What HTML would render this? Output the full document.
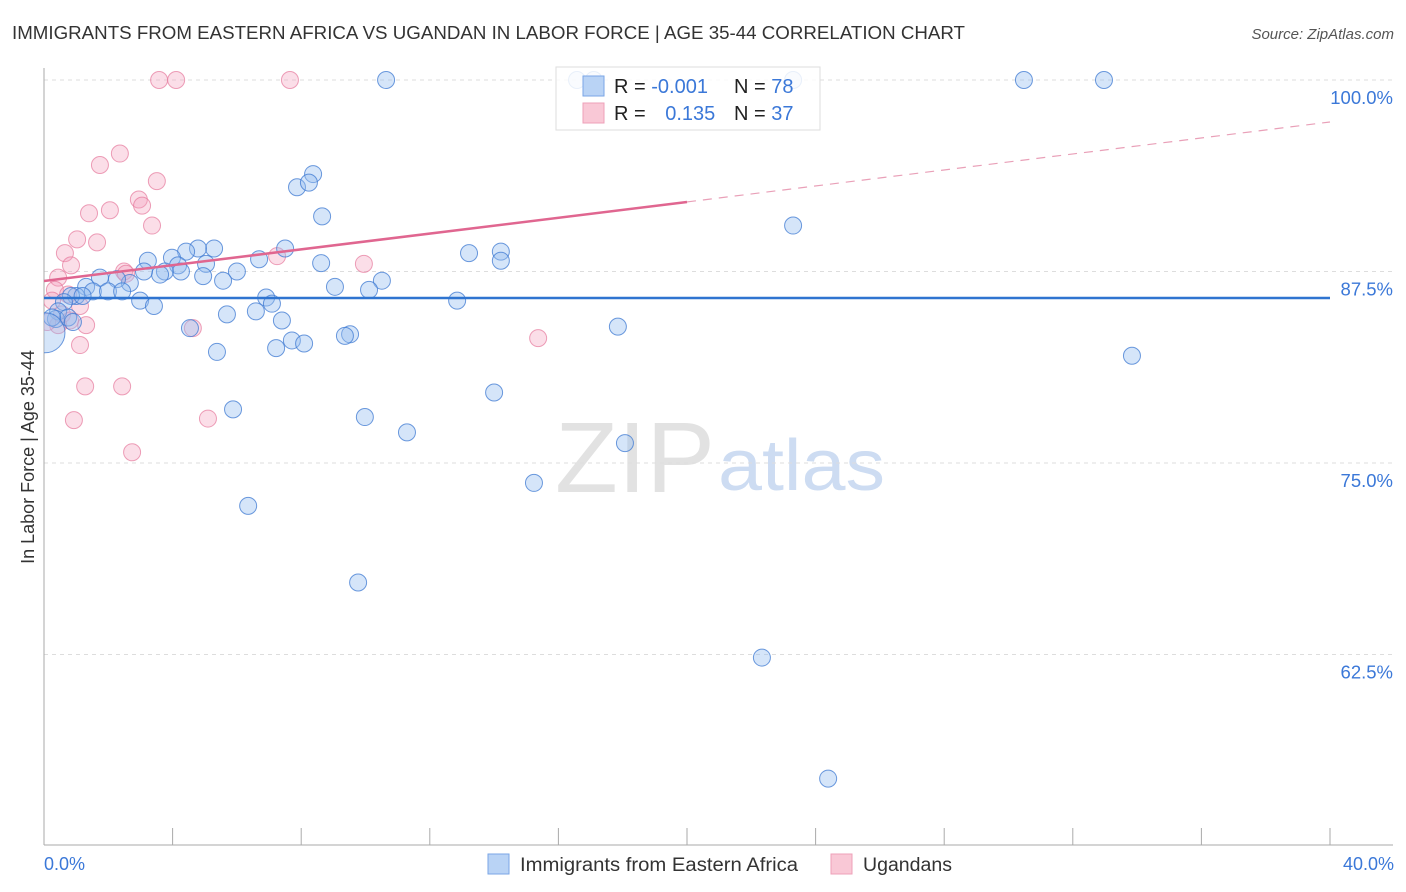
<!DOCTYPE html>
<html><head><meta charset="utf-8">
<style>
body{margin:0;background:#fff;font-family:"Liberation Sans",sans-serif;}
#wrap{position:relative;width:1406px;height:892px;overflow:hidden;}
svg text{font-family:"Liberation Sans",sans-serif;}
</style></head>
<body>
<div id="wrap">
<svg id="chart" width="1406" height="892" xmlns="http://www.w3.org/2000/svg">
<text x="12" y="39" font-size="18" fill="#333" textLength="953" lengthAdjust="spacingAndGlyphs">IMMIGRANTS FROM EASTERN AFRICA VS UGANDAN IN LABOR FORCE | AGE 35-44 CORRELATION CHART</text>
<text x="1394" y="39" font-size="15" fill="#555" font-style="italic" text-anchor="end">Source: ZipAtlas.com</text>
<text x="555" y="492" font-size="100" fill="#e2e2e2" textLength="160" lengthAdjust="spacingAndGlyphs" font-family="Liberation Serif">ZIP</text>
<text x="718" y="490" font-size="72" fill="#cddcf2" textLength="167" lengthAdjust="spacingAndGlyphs">atlas</text>
<g id="grid"></g>
<g id="axes"></g>
<svg x="44" y="0" width="1362" height="892" viewBox="44 0 1362 892" overflow="hidden"><g id="pts"></g></svg>
<g id="lines"></g>
<text transform="translate(34,457) rotate(-90)" font-size="18" fill="#333" text-anchor="middle">In Labor Force | Age 35-44</text>
<text x="44" y="870" font-size="18" fill="#3b78d8">0.0%</text>
<text x="1394" y="870" font-size="18" fill="#3b78d8" text-anchor="end">40.0%</text>
<g>
<rect x="556" y="67" width="264" height="63" fill="rgba(255,255,255,0.85)" stroke="#ddd"/>
<rect x="583" y="76" width="21" height="20" fill="#b9d3f5" stroke="#7aa6e6"/>
<rect x="583" y="103" width="21" height="20" fill="#f9c8d6" stroke="#eea0b8"/>
<text x="614" y="93" font-size="20" fill="#222">R = <tspan fill="#3b78d8">-0.001</tspan></text>
<text x="734" y="93" font-size="20" fill="#222">N = <tspan fill="#3b78d8">78</tspan></text>
<text x="614" y="120" font-size="20" fill="#222">R = <tspan fill="#3b78d8" dx="14">0.135</tspan></text>
<text x="734" y="120" font-size="20" fill="#222">N = <tspan fill="#3b78d8">37</tspan></text>
</g>
<g>
<rect x="488" y="854" width="21" height="20" fill="#b9d3f5" stroke="#7aa6e6"/>
<text x="520" y="871" font-size="19" fill="#333" textLength="278" lengthAdjust="spacingAndGlyphs">Immigrants from Eastern Africa</text>
<rect x="831" y="854" width="21" height="20" fill="#f9c8d6" stroke="#eea0b8"/>
<text x="863" y="871" font-size="19" fill="#333" textLength="89" lengthAdjust="spacingAndGlyphs">Ugandans</text>
</g>
</svg>
</div>
<script>
const yTicks=[100,87.5,75,62.5];
const yTickLabels=["100.0%","87.5%","75.0%","62.5%"];
const xTicks=[0,4,8,12,16,20,24,28,32,36,40];
const blueX=[10.64,16.58,17.1,30.48,32.97,23.3,8.37,7.87,8.24,8.65,23.3,13.22,14.21,14.21,7.5,5.29,4.79,4.42,3.98,3.23,4.17,5.04,6.0,6.69,8.62,10.51,10.11,9.05,4.95,5.57,4.26,3.76,3.61,3.11,2.67,2.27,1.74,1.31,1.52,1.99,2.43,2.99,3.42,1.0,0.84,0.62,0.44,0.37,0.75,0.25,6.91,7.09,12.85,5.69,6.59,7.4,4.54,9.52,9.36,7.71,8.09,7.22,5.38,17.85,33.84,14.0,5.88,9.98,11.29,18.07,15.24,6.35,9.77,22.33,24.39,1.2,0.9,0.03];
const blueY=[100,100,100,100,100,100,93.86,93.0,93.3,91.1,90.5,88.7,88.8,88.2,89.0,89.0,89.0,88.8,88.4,88.2,87.9,88.0,87.5,88.3,88.05,86.9,86.3,86.5,87.2,86.9,87.5,87.5,87.3,87.5,86.75,87.0,87.1,86.5,86.2,86.2,86.2,85.6,85.25,85.9,85.9,85.5,84.9,84.4,84.5,84.5,85.8,85.4,85.6,84.7,84.9,84.3,83.8,83.4,83.3,83.0,82.8,82.5,82.25,83.9,82.0,79.6,78.5,78.0,77.0,76.3,73.7,72.2,67.2,62.3,54.4,85.9,84.2,83.5];
const pinkX=[3.58,4.11,7.65,2.36,1.74,3.51,2.95,3.05,2.05,1.4,3.36,1.65,1.03,0.65,0.84,0.44,2.49,2.55,7.25,9.95,0.34,0.25,0.75,1.12,0.56,0.81,1.31,0.44,1.12,4.63,15.37,1.28,2.43,0.93,5.1,2.74,0.1];
const pinkY=[100,100,100,95.2,94.45,93.4,92.2,91.8,91.5,91.3,90.5,89.4,89.6,88.7,87.9,87.1,87.5,87.35,88.5,88.0,86.3,85.6,86.0,85.25,84.7,84.3,84.0,84.0,82.7,83.8,83.15,80.0,80.0,77.8,77.9,75.7,84.2];
const blueTrend=[85.77,85.77];
const pinkTrend=[86.88,92.04,97.26];
const trendX=[0,20,40];
const NS="http://www.w3.org/2000/svg";
const X=v=>44+v*(1286/40);
const Y=v=>80+(100-v)*(191.5/12.5);
function mk(t,a,p){const e=document.createElementNS(NS,t);for(const k in a)e.setAttribute(k,a[k]);p.appendChild(e);return e;}
const grid=document.getElementById('grid'),axes=document.getElementById('axes'),pts=document.getElementById('pts'),lines=document.getElementById('lines');
yTicks.forEach((v,i)=>{
 const l=mk('line',{x1:44,x2:1393,y1:Y(v),y2:Y(v),stroke:'#ddd','stroke-dasharray':'4,4'},grid);
 
 
 const t=mk('text',{x:1393,y:Y(v)+24,'font-size':18.5,fill:'#3b78d8','text-anchor':'end'},grid);
 t.textContent=yTickLabels[i];
 
 
});
const ya=mk('line',{x1:44,x2:44,y1:68,y2:845,stroke:'#aaa'},axes);


const xa=mk('line',{x1:44,x2:1393,y1:845,y2:845,stroke:'#aaa'},axes);


xTicks.forEach(v=>{
 const t=mk('line',{x1:X(v),x2:X(v),y1:828,y2:845,stroke:'#aaa'},axes);
 
 
});
pinkX.forEach((v,i)=>{
 const c=mk('circle',{cx:X(v),cy:Y(pinkY[i]),r:8.5,fill:'rgba(244,160,188,0.35)',stroke:'rgba(230,120,155,0.7)','stroke-width':1},pts);
 
 
});
blueX.forEach((v,i)=>{
 const big=i===blueX.length-1;
 const c=mk('circle',{cx:X(v),cy:Y(blueY[i]),r:big?20:8.5,fill:'rgba(150,190,240,0.4)',stroke:'rgba(60,120,210,0.75)','stroke-width':1},pts);
 
 
});
const bl=mk('line',{x1:X(trendX[0]),x2:X(trendX[2]),y1:Y(blueTrend[0]),y2:Y(blueTrend[1]),stroke:'#2f74d0','stroke-width':2.5},lines);


const pl=mk('line',{x1:X(trendX[0]),x2:X(trendX[1]),y1:Y(pinkTrend[0]),y2:Y(pinkTrend[1]),stroke:'#e06690','stroke-width':2.5},lines);


const pd=mk('line',{x1:X(trendX[1]),x2:X(trendX[2]),y1:Y(pinkTrend[1]),y2:Y(pinkTrend[2]),stroke:'#e9a0b8','stroke-width':1.2,'stroke-dasharray':'9,7'},lines);


</script>
</body></html>
